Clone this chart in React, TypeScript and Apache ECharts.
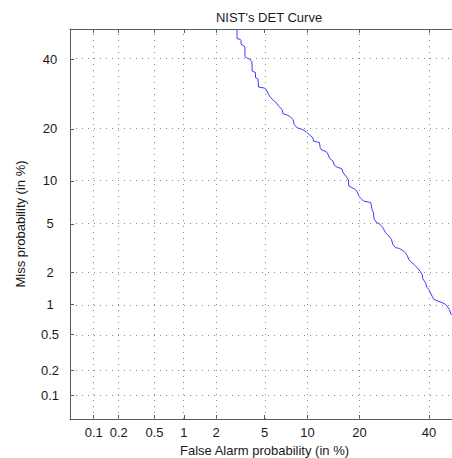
import React, { useEffect, useRef } from "react";
import * as echarts from "echarts";

// Tick labels (percent)
const X_TICKS = [0.1, 0.2, 0.5, 1, 2, 5, 10, 20, 40];
const Y_TICKS = [0.1, 0.2, 0.5, 1, 2, 5, 10, 20, 40];
const AXIS_MIN_PCT = 0.05;
const AXIS_MAX_PCT = 50;

// DET curve points (percent)
const falseAlarm = [
  3.02, 3.02, 3.21, 3.26, 3.26, 3.46, 3.51, 3.51, 3.6, 3.8, 3.92, 3.99, 4.01, 4.26, 4.26, 4.45,
  4.5, 4.97, 5.12, 5.36, 5.54, 5.83, 6.17, 6.34, 6.71, 6.82, 7.28, 7.67, 8.0, 8.16, 8.51, 9.2,
  9.81, 10.29, 10.82, 10.92, 11.9, 12.01, 12.3, 13.06, 13.48, 13.66, 14.3, 14.55, 15.08, 16.08,
  16.36, 17.0, 17.48, 17.57, 18.23, 18.98, 19.52, 19.75, 20.15, 20.94, 22.18, 22.8, 23.04, 23.46,
  23.64, 24.16, 25.22, 25.96, 26.68, 27.63, 28.37, 28.77, 29.53, 30.71, 31.51, 32.51, 33.03,
  33.55, 34.05, 35.1, 36.14, 37.19, 37.74, 37.96, 38.8, 39.35, 39.91, 40.43, 40.99, 41.55, 42.64,
  44.3, 45.4, 45.97, 46.74, 47.42,
];
const missProb = [
  50, 46.76, 46.52, 46.18, 44.85, 44.28, 43.95, 40.78, 40.45, 40.0, 39.57, 39.15, 36.14, 35.64,
  34.08, 33.64, 31.22, 30.92, 30.62, 29.07, 28.13, 27.36, 26.53, 25.78, 24.89, 23.76, 23.4, 22.98,
  22.3, 21.06, 20.27, 19.87, 19.33, 18.55, 17.97, 17.23, 16.89, 15.84, 15.36, 15.05, 14.38, 13.76,
  13.27, 12.56, 12.21, 11.91, 11.25, 10.65, 10.13, 9.27, 9.04, 8.81, 8.45, 8.03, 7.74, 7.33, 7.22,
  7.15, 6.48, 6.07, 5.42, 5.17, 4.97, 4.69, 4.29, 4.04, 3.8, 3.46, 3.26, 3.2, 3.11, 2.96, 2.81,
  2.6, 2.49, 2.36, 2.21, 2.03, 1.92, 1.76, 1.62, 1.46, 1.4, 1.31, 1.21, 1.13, 1.09, 1.05, 1.01,
  0.97, 0.9, 0.79,
];

// Inverse normal CDF (Acklam)
function probit(p: number): number {
  const a = [-3.969683028665376e1, 2.209460984245205e2, -2.759285104469687e2, 1.38357751867269e2, -3.066479806614716e1, 2.506628277459239];
  const b = [-5.447609879822406e1, 1.615858368580409e2, -1.556989798598866e2, 6.680131188771972e1, -1.328068155288572e1];
  const c = [-7.784894002430293e-3, -3.223964580411365e-1, -2.400758277161838, -2.549732139033584, 4.374664141464968, 2.938163982698783];
  const d = [7.784695709041462e-3, 3.224671290700398e-1, 2.445134137142996, 3.754408661907416];
  const plow = 0.02425;
  const phigh = 1 - plow;
  if (p === 0.5) return 0;
  if (p < plow) {
    const q = Math.sqrt(-2 * Math.log(p));
    return (((((c[0] * q + c[1]) * q + c[2]) * q + c[3]) * q + c[4]) * q + c[5]) /
      ((((d[0] * q + d[1]) * q + d[2]) * q + d[3]) * q + 1);
  }
  if (p <= phigh) {
    const q = p - 0.5;
    const r = q * q;
    return ((((((a[0] * r + a[1]) * r + a[2]) * r + a[3]) * r + a[4]) * r + a[5]) * q) /
      (((((b[0] * r + b[1]) * r + b[2]) * r + b[3]) * r + b[4]) * r + 1);
  }
  const q = Math.sqrt(-2 * Math.log(1 - p));
  return -(((((c[0] * q + c[1]) * q + c[2]) * q + c[3]) * q + c[4]) * q + c[5]) /
    ((((d[0] * q + d[1]) * q + d[2]) * q + d[3]) * q + 1);
}

const pz = (pct: number) => probit(pct / 100);

function labelFor(ticks: number[], v: number): string {
  for (const t of ticks) if (Math.abs(pz(t) - v) < 1e-6) return String(t);
  return "";
}

const FONT = "Liberation Sans, Arial, Helvetica, sans-serif";
const AXIS_COLOR = "#5a5a5a";
const TEXT_COLOR = "#1a1a1a";

export default function App() {
  const ref = useRef<HTMLDivElement>(null);
  useEffect(() => {
    document.body.style.margin = "0";
    if (!ref.current) return;
    const chart = echarts.init(ref.current, undefined, { renderer: "svg" });
    const zMin = pz(AXIS_MIN_PCT);
    const zMax = pz(AXIS_MAX_PCT);
    const xTickZ = X_TICKS.map(pz);
    const yTickZ = Y_TICKS.map(pz);
    const axisBase = {
      type: "value" as const,
      min: zMin,
      max: zMax,
      splitLine: { show: false },
      axisLine: { show: true, onZero: false, lineStyle: { color: AXIS_COLOR, width: 1 } },
    };
    chart.setOption({
      animation: false,
      textStyle: { fontFamily: FONT },
      title: {
        text: "NIST's DET Curve",
        left: 264,
        top: 6,
        textAlign: "center",
        textStyle: { fontSize: 13, fontWeight: "normal", color: TEXT_COLOR, fontFamily: FONT },
      },
      grid: { left: 70, top: 29, right: -7, bottom: 39, containLabel: false, outerBoundsMode: "none" },
      xAxis: [
        {
          ...axisBase,
          position: "bottom",
          name: "False Alarm probability (in %)",
          nameLocation: "middle",
          nameGap: 23,
          nameTextStyle: { fontSize: 13, color: TEXT_COLOR, fontFamily: FONT },
          axisTick: { show: true, inside: true, length: 4, customValues: xTickZ, lineStyle: { color: AXIS_COLOR } },
          axisLabel: {
            show: true,
            customValues: xTickZ,
            margin: 7,
            fontSize: 13,
            color: TEXT_COLOR,
            fontFamily: FONT,
            formatter: (v: number) => labelFor(X_TICKS, v),
          },
        },
        {
          ...axisBase,
          position: "top",
          axisTick: { show: true, inside: true, length: 4, customValues: xTickZ, lineStyle: { color: AXIS_COLOR } },
          axisLabel: { show: false },
        },
      ],
      yAxis: [
        {
          ...axisBase,
          position: "left",
          name: "Miss probability (in %)",
          nameLocation: "middle",
          nameGap: 43,
          nameTextStyle: { fontSize: 13, color: TEXT_COLOR, fontFamily: FONT, width: 400, overflow: "none" },
          axisTick: { show: true, inside: true, length: 4, customValues: yTickZ, lineStyle: { color: AXIS_COLOR } },
          axisLabel: {
            show: true,
            customValues: yTickZ,
            margin: 20,
            align: "center",
            fontSize: 13,
            color: TEXT_COLOR,
            fontFamily: FONT,
            formatter: (v: number) => labelFor(Y_TICKS, v),
          },
        },
      ],
      series: [
        {
          type: "line",
          xAxisIndex: 0,
          yAxisIndex: 0,
          data: [],
          silent: true,
          markLine: {
            silent: true,
            symbol: ["none", "none"],
            label: { show: false },
            lineStyle: { color: "#8a8a8a", width: 1, type: [1, 5] },
            data: [
              ...xTickZ.map((v) => ({ xAxis: v })),
              ...yTickZ.map((v) => ({ yAxis: v })),
            ],
          },
        },
        {
          type: "line",
          xAxisIndex: 0,
          yAxisIndex: 0,
          showSymbol: false,
          symbol: "none",
          clip: true,
          lineStyle: { color: "#3c3cff", width: 1 },
          data: falseAlarm.map((fa, i) => [pz(fa), pz(missProb[i])]),
        },
      ],
    });
    return () => chart.dispose();
  }, []);
  return <div ref={ref} style={{ width: 452, height: 458 }} />;
}
